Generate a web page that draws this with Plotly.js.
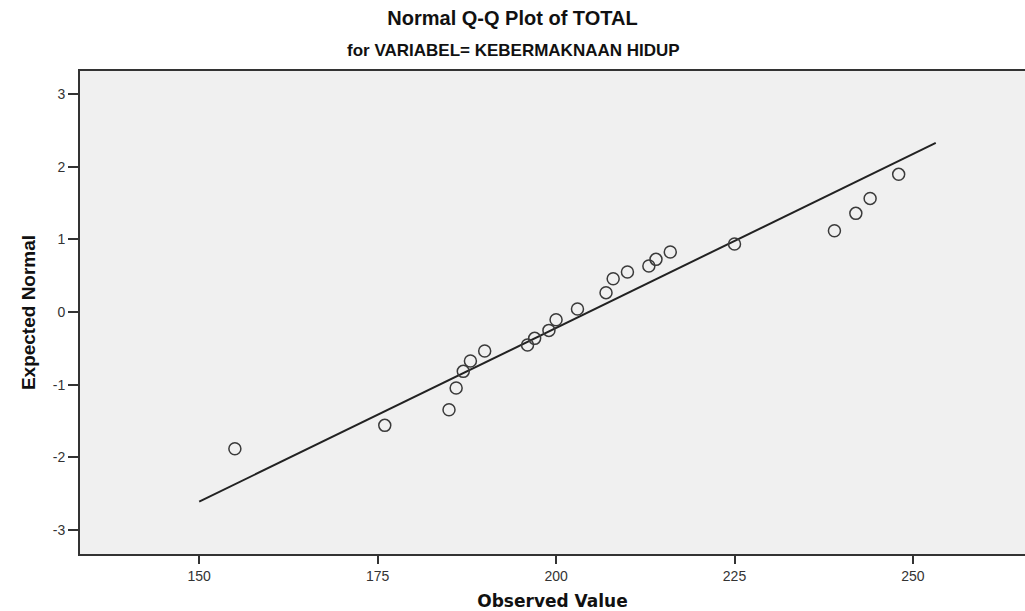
<!DOCTYPE html>
<html>
<head>
<meta charset="utf-8">
<script src="https://cdn.plot.ly/plotly-3.0.1.min.js"></script>
<style>html,body{margin:0;padding:0;background:#fff;}#chart{width:1025px;height:611px;}</style>
</head>
<body>
<div id="chart"></div>
<script>
var observed = [155, 176, 185, 186, 187, 188, 190, 196, 197, 199, 200, 203, 207, 208, 210, 213, 214, 216, 225, 239, 242, 244, 248];
var expectedNormal = [-1.881, -1.560, -1.344, -1.046, -0.817, -0.674, -0.537, -0.454, -0.363, -0.253, -0.106, 0.041, 0.266, 0.458, 0.550, 0.633, 0.724, 0.826, 0.936, 1.119, 1.357, 1.563, 1.894];
// Reference line endpoints
var lineX = [150, 253.2];
var lineY = [-2.61, 2.326];
// Tick labels
var xTickVals = [150, 175, 200, 225, 250];
var xTickText = ["150", "175", "200", "225", "250"];
var yTickVals = [-3, -2, -1, 0, 1, 2, 3];
var yTickText = ["-3", "-2", "-1", "0", "1", "2", "3"];

var narrow = '"Liberation Sans Narrow", "Arial Narrow", "Liberation Sans", Arial, sans-serif';

var traces = [
  {
    x: lineX, y: lineY, type: 'scatter', mode: 'lines',
    line: {color: '#222222', width: 2},
    hoverinfo: 'skip', showlegend: false
  },
  {
    x: observed, y: expectedNormal, type: 'scatter', mode: 'markers',
    marker: {symbol: 'circle-open', size: 12, color: '#3a3a3a', line: {width: 1.5, color: '#3a3a3a'}},
    showlegend: false
  }
];

var layout = {
  width: 1025, height: 611,
  margin: {l: 80, r: 0, t: 71, b: 57},
  paper_bgcolor: '#ffffff',
  plot_bgcolor: '#f0f0f0',
  title: {
    text: '<b>Normal Q-Q Plot of TOTAL</b>',
    x: 0.5, xref: 'container', xanchor: 'center',
    y: 1, yref: 'container', yanchor: 'top', pad: {t: 11},
    font: {family: narrow, size: 20, color: '#111111'}
  },
  annotations: [{
    text: '<b>for VARIABEL= KEBERMAKNAAN HIDUP</b>',
    xref: 'paper', yref: 'paper', x: 0.459, y: 1, yshift: 9,
    xanchor: 'center', yanchor: 'bottom', showarrow: false,
    font: {family: narrow, size: 17, color: '#111111'}
  }],
  xaxis: {
    range: [133.3, 265.7],
    tickmode: 'array', tickvals: xTickVals, ticktext: xTickText,
    ticks: 'outside', ticklen: 8, tickwidth: 2, tickcolor: '#333333',
    showline: true, linecolor: '#333333', linewidth: 2, mirror: true,
    showgrid: false, zeroline: false,
    tickfont: {family: 'Liberation Sans, Arial, sans-serif', size: 14, color: '#333333'},
    title: {text: '<b>Observed Value</b>', standoff: 12,
      font: {family: 'DejaVu Sans, Verdana, sans-serif', size: 17, color: '#111111'}}
  },
  yaxis: {
    range: [-3.33, 3.316],
    tickmode: 'array', tickvals: yTickVals, ticktext: yTickText,
    ticks: 'outside', ticklen: 10, tickwidth: 2, tickcolor: '#333333',
    showline: true, linecolor: '#333333', linewidth: 2,
    showgrid: false, zeroline: false,
    tickfont: {family: 'Liberation Sans, Arial, sans-serif', size: 14, color: '#333333'},
    title: {text: '<b>Expected Normal</b>', standoff: 12,
      font: {family: narrow, size: 19, color: '#111111'}}
  }
};

Plotly.newPlot('chart', traces, layout, {displayModeBar: false, staticPlot: true});
</script>
</body>
</html>
